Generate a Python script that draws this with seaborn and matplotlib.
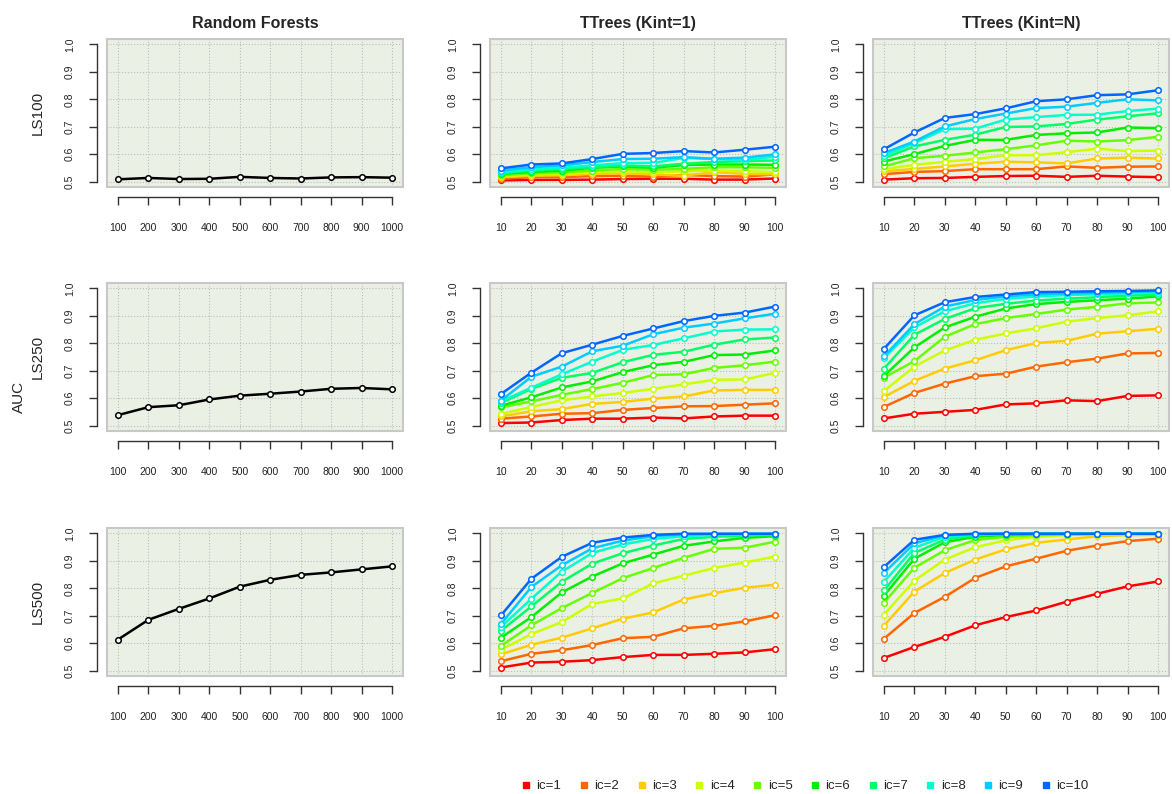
import matplotlib
matplotlib.use("Agg")
import matplotlib.pyplot as plt
from matplotlib.patches import Rectangle
from matplotlib.lines import Line2D
import seaborn as sns

# x values
rf_trees = [100, 200, 300, 400, 500, 600, 700, 800, 900, 1000]
tt_trees = [10, 20, 30, 40, 50, 60, 70, 80, 90, 100]

col_titles = ["Random Forests", "TTrees (Kint=1)", "TTrees (Kint=N)"]
row_labels = ["LS100", "LS250", "LS500"]
ic_labels = ["ic=%d" % i for i in range(1, 11)]
ic_colors = ["#FF0000", "#FF6600", "#FFCC00", "#CCFF00", "#66FF00",
             "#00EE00", "#00FF66", "#00FFCC", "#00CCFF", "#0066FF"]

# Random forests AUC
rf_ls100 = [0.508, 0.513, 0.509, 0.510, 0.517, 0.513, 0.511, 0.515, 0.516, 0.514]
rf_ls250 = [0.538, 0.567, 0.574, 0.595, 0.609, 0.616, 0.624, 0.634, 0.637, 0.632]
rf_ls500 = [0.613, 0.685, 0.725, 0.763, 0.806, 0.831, 0.849, 0.858, 0.869, 0.880]

# TTrees Kint=1, one row per ic (ic=1 .. ic=10)
tt1_ls100 = [
    [0.504, 0.506, 0.506, 0.507, 0.509, 0.510, 0.510, 0.507, 0.507, 0.511],
    [0.510, 0.516, 0.516, 0.520, 0.521, 0.518, 0.524, 0.520, 0.518, 0.526],
    [0.516, 0.521, 0.523, 0.528, 0.530, 0.526, 0.521, 0.534, 0.528, 0.526],
    [0.520, 0.526, 0.528, 0.533, 0.538, 0.534, 0.537, 0.540, 0.538, 0.534],
    [0.523, 0.530, 0.534, 0.540, 0.546, 0.543, 0.546, 0.552, 0.552, 0.550],
    [0.528, 0.535, 0.540, 0.550, 0.555, 0.550, 0.560, 0.562, 0.562, 0.561],
    [0.530, 0.540, 0.546, 0.552, 0.559, 0.555, 0.565, 0.571, 0.574, 0.577],
    [0.533, 0.544, 0.550, 0.559, 0.567, 0.568, 0.586, 0.582, 0.578, 0.591],
    [0.540, 0.552, 0.559, 0.571, 0.582, 0.583, 0.589, 0.583, 0.587, 0.599],
    [0.548, 0.562, 0.566, 0.582, 0.601, 0.604, 0.611, 0.606, 0.616, 0.627],
]
tt1_ls250 = [
    [0.509, 0.511, 0.520, 0.525, 0.525, 0.529, 0.526, 0.533, 0.536, 0.536],
    [0.525, 0.533, 0.543, 0.545, 0.557, 0.564, 0.570, 0.571, 0.576, 0.581],
    [0.533, 0.552, 0.560, 0.579, 0.586, 0.598, 0.606, 0.628, 0.630, 0.630],
    [0.542, 0.568, 0.592, 0.606, 0.619, 0.634, 0.650, 0.667, 0.668, 0.692],
    [0.566, 0.588, 0.612, 0.633, 0.656, 0.684, 0.687, 0.710, 0.720, 0.733],
    [0.572, 0.603, 0.639, 0.661, 0.695, 0.720, 0.732, 0.757, 0.759, 0.774],
    [0.582, 0.634, 0.674, 0.692, 0.731, 0.758, 0.769, 0.795, 0.814, 0.821],
    [0.588, 0.638, 0.687, 0.733, 0.776, 0.794, 0.818, 0.843, 0.850, 0.851],
    [0.591, 0.678, 0.715, 0.771, 0.791, 0.833, 0.857, 0.872, 0.891, 0.908],
    [0.615, 0.693, 0.764, 0.795, 0.827, 0.854, 0.881, 0.900, 0.912, 0.934],
]
tt1_ls500 = [
    [0.511, 0.529, 0.532, 0.538, 0.549, 0.557, 0.557, 0.561, 0.566, 0.578],
    [0.534, 0.561, 0.574, 0.593, 0.618, 0.623, 0.654, 0.663, 0.679, 0.702],
    [0.559, 0.594, 0.620, 0.654, 0.689, 0.712, 0.759, 0.782, 0.802, 0.813],
    [0.576, 0.633, 0.677, 0.743, 0.763, 0.818, 0.846, 0.874, 0.894, 0.916],
    [0.590, 0.665, 0.728, 0.783, 0.837, 0.874, 0.911, 0.944, 0.948, 0.970],
    [0.620, 0.695, 0.785, 0.843, 0.891, 0.923, 0.955, 0.971, 0.984, 0.990],
    [0.645, 0.734, 0.824, 0.890, 0.928, 0.956, 0.980, 0.988, 0.993, 0.995],
    [0.659, 0.762, 0.861, 0.929, 0.960, 0.980, 0.990, 0.995, 0.997, 0.998],
    [0.670, 0.805, 0.884, 0.946, 0.974, 0.990, 0.997, 0.998, 0.999, 0.999],
    [0.701, 0.835, 0.915, 0.966, 0.985, 0.995, 0.999, 0.999, 0.999, 0.999],
]

# TTrees Kint=N
ttn_ls100 = [
    [0.507, 0.512, 0.513, 0.517, 0.520, 0.521, 0.517, 0.521, 0.518, 0.516],
    [0.527, 0.535, 0.538, 0.545, 0.545, 0.545, 0.555, 0.550, 0.554, 0.555],
    [0.537, 0.546, 0.555, 0.565, 0.572, 0.570, 0.566, 0.584, 0.587, 0.584],
    [0.545, 0.561, 0.572, 0.582, 0.596, 0.596, 0.607, 0.620, 0.611, 0.613],
    [0.555, 0.585, 0.594, 0.606, 0.618, 0.632, 0.649, 0.646, 0.651, 0.663],
    [0.573, 0.600, 0.630, 0.652, 0.652, 0.670, 0.676, 0.679, 0.697, 0.695],
    [0.585, 0.628, 0.652, 0.671, 0.699, 0.701, 0.710, 0.726, 0.738, 0.749],
    [0.594, 0.640, 0.691, 0.693, 0.726, 0.735, 0.743, 0.744, 0.757, 0.766],
    [0.604, 0.646, 0.701, 0.728, 0.748, 0.768, 0.773, 0.787, 0.800, 0.796],
    [0.618, 0.679, 0.732, 0.746, 0.767, 0.793, 0.800, 0.815, 0.818, 0.833],
]
ttn_ls250 = [
    [0.526, 0.543, 0.550, 0.557, 0.577, 0.581, 0.592, 0.589, 0.608, 0.610],
    [0.568, 0.619, 0.653, 0.680, 0.689, 0.715, 0.731, 0.744, 0.763, 0.765],
    [0.604, 0.663, 0.708, 0.738, 0.775, 0.801, 0.809, 0.835, 0.844, 0.853],
    [0.626, 0.715, 0.774, 0.813, 0.836, 0.855, 0.879, 0.892, 0.902, 0.917],
    [0.675, 0.735, 0.824, 0.870, 0.892, 0.907, 0.923, 0.933, 0.946, 0.949],
    [0.681, 0.785, 0.858, 0.897, 0.927, 0.943, 0.951, 0.957, 0.963, 0.971],
    [0.708, 0.831, 0.889, 0.928, 0.944, 0.956, 0.963, 0.968, 0.974, 0.977],
    [0.746, 0.858, 0.917, 0.946, 0.962, 0.971, 0.976, 0.979, 0.982, 0.985],
    [0.752, 0.870, 0.934, 0.958, 0.971, 0.979, 0.982, 0.984, 0.987, 0.990],
    [0.780, 0.902, 0.950, 0.969, 0.978, 0.987, 0.988, 0.990, 0.991, 0.993],
]
ttn_ls500 = [
    [0.546, 0.586, 0.623, 0.665, 0.695, 0.719, 0.751, 0.780, 0.807, 0.825],
    [0.616, 0.710, 0.769, 0.838, 0.880, 0.908, 0.937, 0.956, 0.972, 0.981],
    [0.664, 0.788, 0.856, 0.905, 0.942, 0.966, 0.978, 0.990, 0.994, 0.995],
    [0.704, 0.828, 0.905, 0.950, 0.975, 0.988, 0.994, 0.996, 0.997, 0.997],
    [0.748, 0.875, 0.939, 0.976, 0.988, 0.994, 0.996, 0.998, 0.999, 0.999],
    [0.773, 0.908, 0.968, 0.988, 0.995, 0.998, 0.999, 0.999, 0.999, 0.999],
    [0.792, 0.929, 0.978, 0.994, 0.998, 0.999, 0.999, 0.999, 0.999, 0.999],
    [0.824, 0.948, 0.988, 0.996, 0.999, 0.999, 0.999, 0.999, 0.999, 0.999],
    [0.856, 0.964, 0.993, 0.998, 0.999, 0.999, 0.999, 0.999, 0.999, 0.999],
    [0.878, 0.977, 0.995, 0.999, 0.999, 0.999, 0.999, 0.999, 0.999, 0.999],
]

rf_rows = [rf_ls100, rf_ls250, rf_ls500]
tt1_rows = [tt1_ls100, tt1_ls250, tt1_ls500]
ttn_rows = [ttn_ls100, ttn_ls250, ttn_ls500]

sns.set_style("white")
plt.rcParams["font.family"] = ["Liberation Sans", "DejaVu Sans"]

W, H = 1172, 794
fig = plt.figure(figsize=(W / 100, H / 100), dpi=100)

box_left = [107, 490, 873]
box_top = [39, 283, 528]
box_w, box_h = 296, 148
bg = "#EBF0E5"
axis_col = "#333333"
yticks = [0.5, 0.6, 0.7, 0.8, 0.9, 1.0]


def style_panel(ax, xs):
    pad = (xs[-1] - xs[0]) * 0.04
    ax.set_xlim(xs[0] - pad, xs[-1] + pad)
    ax.set_ylim(0.48, 1.02)
    ax.set_facecolor(bg)
    ax.set_xticks(xs)
    ax.set_yticks(yticks)
    ax.set_yticklabels(["%.1f" % v for v in yticks])
    ax.grid(True, linestyle=":", color="#BDBDBD", linewidth=0.8)
    ax.set_axisbelow(True)
    for s in ["top", "right"]:
        ax.spines[s].set_visible(False)
    ax.spines["left"].set_position(("outward", 7))
    ax.spines["bottom"].set_position(("outward", 7))
    ax.spines["left"].set_bounds(0.5, 1.0)
    ax.spines["bottom"].set_bounds(xs[0], xs[-1])
    for s in ["left", "bottom"]:
        ax.spines[s].set_color(axis_col)
        ax.spines[s].set_linewidth(1.0)
    ax.tick_params(axis="both", direction="out", length=6, width=1.0,
                   color=axis_col, labelsize=7.5, labelcolor="#222222",
                   left=True, bottom=True)
    ax.tick_params(axis="x", pad=13)
    ax.tick_params(axis="y", pad=10, labelrotation=90)
    for lab in ax.get_yticklabels():
        lab.set_va("center")
    ax.add_patch(Rectangle((0, 0), 1, 1, transform=ax.transAxes, fill=False,
                           edgecolor="#C8C8C8", linewidth=1.5, clip_on=False,
                           zorder=5))
    ax.set_xlabel("")
    ax.set_ylabel("")


def draw_line(ax, xs, ys, color):
    sns.lineplot(x=xs, y=ys, ax=ax, color=color, linewidth=1.8, marker="o",
                 markersize=4, markerfacecolor="white", markeredgecolor=color,
                 markeredgewidth=1.1)


for r in range(3):
    for c in range(3):
        rect = [box_left[c] / W, 1 - (box_top[r] + box_h) / H, box_w / W, box_h / H]
        ax = fig.add_axes(rect)
        if c == 0:
            draw_line(ax, rf_trees, rf_rows[r], "black")
            xs = rf_trees
        else:
            series = tt1_rows[r] if c == 1 else ttn_rows[r]
            for ys, col in zip(series, ic_colors):
                draw_line(ax, tt_trees, ys, col)
            xs = tt_trees
        style_panel(ax, xs)
        if r == 0:
            ax.set_title(col_titles[c], fontsize=11.5, fontweight="bold", pad=8)
        if c == 0:
            fig.text(38 / W, 1 - (box_top[r] + box_h / 2) / H, row_labels[r],
                     rotation=90, ha="center", va="center", fontsize=11)

fig.text(19 / W, 0.5, "AUC", rotation=90, ha="center", va="center",
         fontsize=11)

handles = [Line2D([], [], linestyle="none", marker="s", markersize=4,
                  color=col) for col in ic_colors]
fig.legend(handles, ic_labels, loc="center", bbox_to_anchor=(804 / W, 1 - 786 / H),
           ncol=10, frameon=False, fontsize=9.5, handletextpad=0.3,
           columnspacing=1.2, handlelength=1.0)

fig.savefig("out.png", dpi=100)
